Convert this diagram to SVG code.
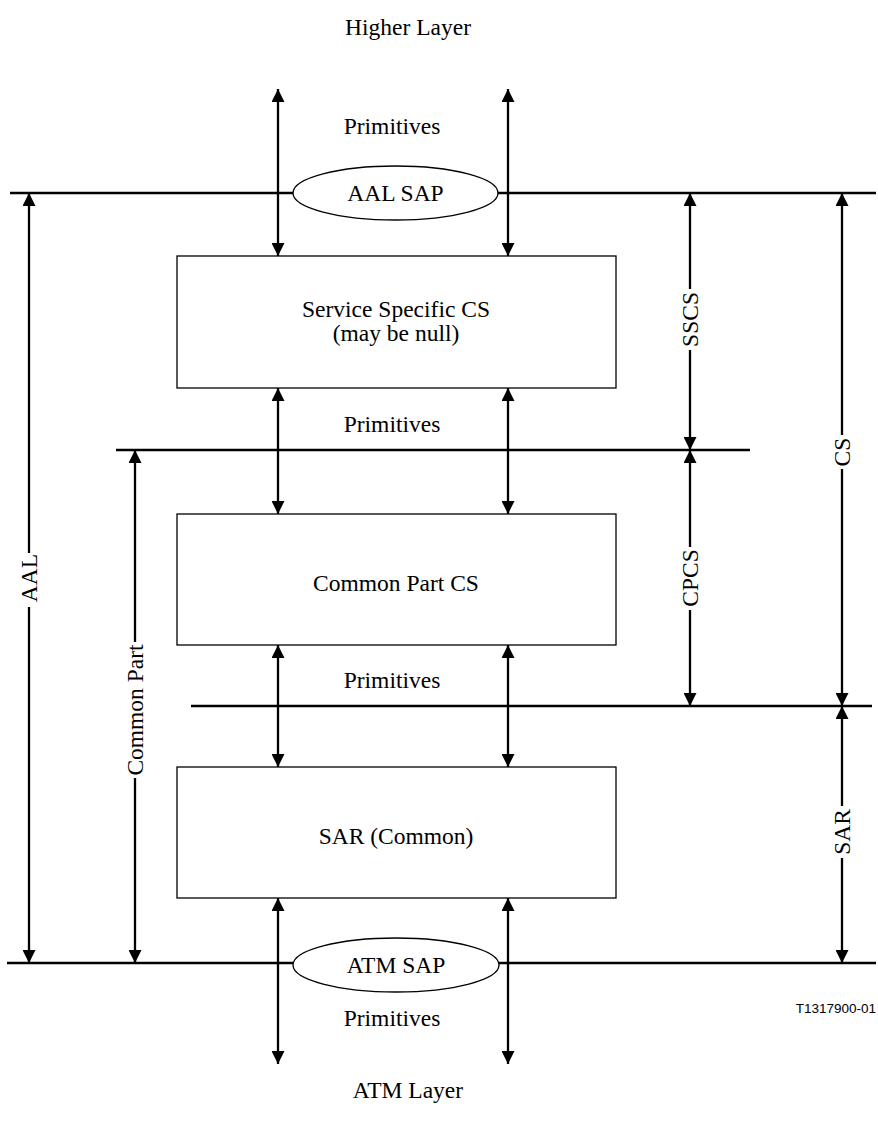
<svg xmlns="http://www.w3.org/2000/svg" width="878" height="1124" viewBox="0 0 878 1124">
<style>
text{font-family:"Liberation Serif","Times New Roman",serif;font-size:23.5px;fill:#000;text-anchor:middle}
.code{font-family:"Liberation Sans",Arial,sans-serif;font-size:13.5px;text-anchor:end}
.ln{stroke:#000;stroke-width:2.3;fill:none}
.arr{stroke:#000;stroke-width:2.3;fill:none;marker-start:url(#ah);marker-end:url(#ah)}
.box{fill:#fff;stroke:#000;stroke-width:1.3}
.sap{fill:#fff;stroke:#000;stroke-width:1.3}
.gap{fill:#fff}
</style>
<defs>
<marker id="ah" viewBox="0 0 13 13" refX="13" refY="6.5" markerWidth="13" markerHeight="13" markerUnits="userSpaceOnUse" orient="auto-start-reverse">
<path d="M0,0 L13,6.5 L0,13 z" fill="#000"/>
</marker>
</defs>
<rect width="878" height="1124" fill="#fff"/>
<text x="408" y="35">Higher Layer</text>
<text x="408" y="1098">ATM Layer</text>
<g id="connectors">
<line class="ln" x1="10" y1="193" x2="876" y2="193"/>
<line class="ln" x1="116" y1="450" x2="750" y2="450"/>
<line class="ln" x1="191" y1="706" x2="872" y2="706"/>
<line class="ln" x1="7" y1="963" x2="876" y2="963"/>
<line class="arr" x1="278" y1="89" x2="278" y2="256"/>
<line class="arr" x1="508" y1="89" x2="508" y2="256"/>
<line class="arr" x1="278" y1="388" x2="278" y2="514"/>
<line class="arr" x1="508" y1="388" x2="508" y2="514"/>
<line class="arr" x1="278" y1="645" x2="278" y2="767"/>
<line class="arr" x1="508" y1="645" x2="508" y2="767"/>
<line class="arr" x1="278" y1="898" x2="278" y2="1064"/>
<line class="arr" x1="508" y1="898" x2="508" y2="1064"/>
<line class="arr" x1="29" y1="193" x2="29" y2="963"/>
<line class="arr" x1="135" y1="450" x2="135" y2="963"/>
<line class="arr" x1="690" y1="193" x2="690" y2="450"/>
<line class="arr" x1="690" y1="450" x2="690" y2="706"/>
<line class="arr" x1="842" y1="193" x2="842" y2="706"/>
<line class="arr" x1="842" y1="706" x2="842" y2="963"/>
</g>
<g id="prim-labels">
<text x="392" y="134">Primitives</text>
<text x="392" y="432">Primitives</text>
<text x="392" y="688">Primitives</text>
<text x="392" y="1026">Primitives</text>
</g>
<g id="aal-sap">
<ellipse class="sap" cx="395.5" cy="193" rx="102.5" ry="27"/>
<text x="395.5" y="201">AAL SAP</text>
</g>
<g id="atm-sap">
<ellipse class="sap" cx="396" cy="965" rx="103" ry="27"/>
<text x="396" y="973">ATM SAP</text>
</g>
<g id="sscs-box">
<rect class="box" x="177" y="256" width="439" height="132"/>
<text x="396" y="317">Service Specific CS</text>
<text x="396" y="341">(may be null)</text>
</g>
<g id="cpcs-box">
<rect class="box" x="177" y="514" width="439" height="131"/>
<text x="396" y="591">Common Part CS</text>
</g>
<g id="sar-box">
<rect class="box" x="177" y="767" width="439" height="131"/>
<text x="396" y="844">SAR (Common)</text>
</g>
<g id="dim-aal">
<rect class="gap" x="19" y="553" width="20" height="54"/>
<text transform="translate(37,578) rotate(-90)">AAL</text>
</g>
<g id="dim-common">
<rect class="gap" x="125" y="642" width="20" height="136"/>
<text transform="translate(143,710) rotate(-90)">Common Part</text>
</g>
<g id="dim-sscs">
<rect class="gap" x="680" y="289" width="20" height="61"/>
<text transform="translate(698,319.5) rotate(-90)">SSCS</text>
</g>
<g id="dim-cpcs">
<rect class="gap" x="680" y="547" width="20" height="63"/>
<text transform="translate(698,578) rotate(-90)">CPCS</text>
</g>
<g id="dim-cs">
<rect class="gap" x="832" y="435" width="20" height="34"/>
<text transform="translate(850,452) rotate(-90)">CS</text>
</g>
<g id="dim-sar">
<rect class="gap" x="832" y="806" width="20" height="52"/>
<text transform="translate(850,832) rotate(-90)">SAR</text>
</g>
<text class="code" x="876" y="1013">T1317900-01</text>
</svg>
